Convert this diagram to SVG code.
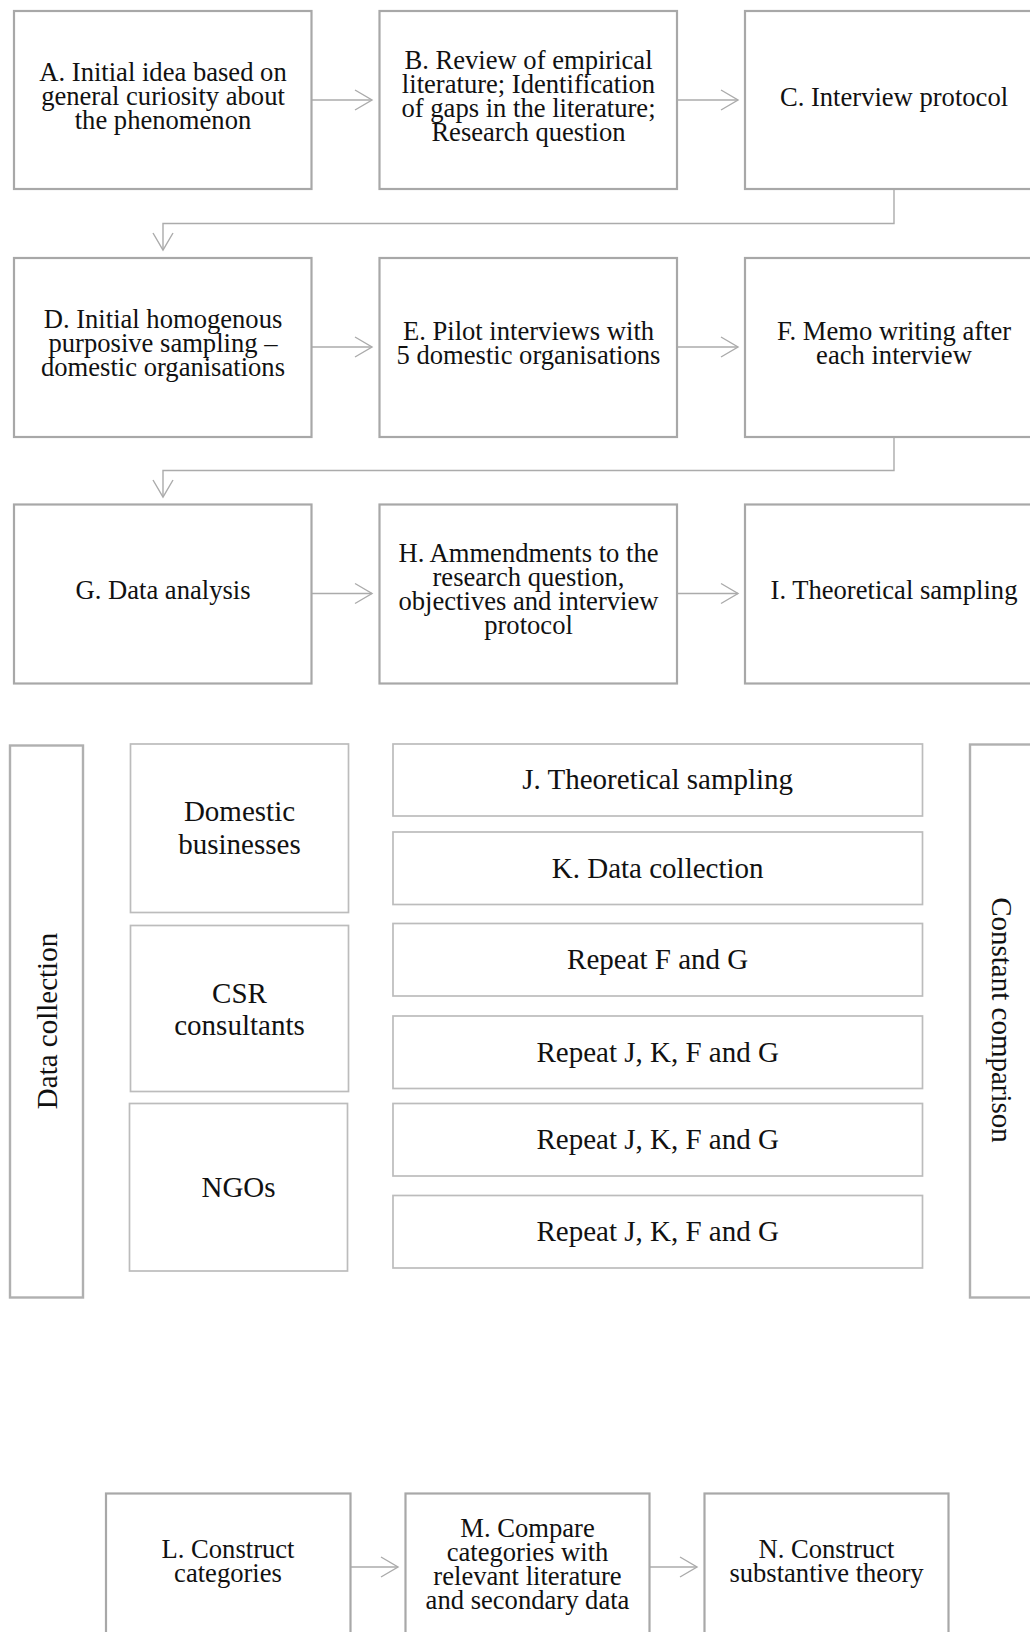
<svg xmlns="http://www.w3.org/2000/svg" width="1030" height="1632" viewBox="0 0 1030 1632">
<defs>
<style>
.box{fill:#fff;stroke:#a8a8a8;stroke-width:2.2}
.mbox{fill:#fff;stroke:#bcbcbc;stroke-width:1.7}
.side{fill:#fff;stroke:#b0b0b0;stroke-width:2.4}
.t{font-family:"Liberation Serif","Times New Roman",serif;font-size:26.6px;fill:#111;text-anchor:middle}
.tm{font-family:"Liberation Serif","Times New Roman",serif;font-size:29px;fill:#111;text-anchor:middle}
.conn{fill:none;stroke:#ababab;stroke-width:1.4}
</style>
<marker id="chev" markerUnits="userSpaceOnUse" markerWidth="20" markerHeight="24" viewBox="0 0 20 24" refX="18" refY="12" orient="auto">
<path d="M1,2 L18,12 L1,22" fill="none" stroke="#ababab" stroke-width="1.4"/>
</marker>
</defs>
<rect width="1030" height="1632" fill="#fff"/>

<g id="connectors">
<path class="conn" d="M311.5,100 H372" marker-end="url(#chev)"/>
<path class="conn" d="M677,100 H738" marker-end="url(#chev)"/>
<path class="conn" d="M894,189 V223.5 H163 V250" marker-end="url(#chev)"/>
<path class="conn" d="M311.5,347 H372" marker-end="url(#chev)"/>
<path class="conn" d="M677,347 H738" marker-end="url(#chev)"/>
<path class="conn" d="M894,437 V470.5 H163 V497" marker-end="url(#chev)"/>
<path class="conn" d="M311.5,593.5 H372" marker-end="url(#chev)"/>
<path class="conn" d="M677,593.5 H738" marker-end="url(#chev)"/>
<path class="conn" d="M350,1567 H398" marker-end="url(#chev)"/>
<path class="conn" d="M649.5,1567 H697" marker-end="url(#chev)"/>
</g>

<g id="nodeA"><rect class="box" x="14" y="11" width="297.5" height="178"/>
<text class="t" x="163" y="81">A. Initial idea based on</text>
<text class="t" x="163" y="105">general curiosity about</text>
<text class="t" x="163" y="129">the phenomenon</text></g>

<g id="nodeB"><rect class="box" x="379.5" y="11" width="297.5" height="178"/>
<text class="t" x="528.5" y="69">B. Review of empirical</text>
<text class="t" x="528.5" y="93">literature; Identification</text>
<text class="t" x="528.5" y="117">of gaps in the literature;</text>
<text class="t" x="528.5" y="141">Research question</text></g>

<g id="nodeC"><rect class="box" x="745" y="11" width="297.5" height="178"/>
<text class="t" x="894" y="106">C. Interview protocol</text></g>

<g id="nodeD"><rect class="box" x="14" y="258" width="297.5" height="179"/>
<text class="t" x="163" y="328">D. Initial homogenous</text>
<text class="t" x="163" y="352">purposive sampling –</text>
<text class="t" x="163" y="376">domestic organisations</text></g>

<g id="nodeE"><rect class="box" x="379.5" y="258" width="297.5" height="179"/>
<text class="t" x="528.5" y="340">E. Pilot interviews with</text>
<text class="t" x="528.5" y="364">5 domestic organisations</text></g>

<g id="nodeF"><rect class="box" x="745" y="258" width="297.5" height="179"/>
<text class="t" x="894" y="340">F. Memo writing after</text>
<text class="t" x="894" y="364">each interview</text></g>

<g id="nodeG"><rect class="box" x="14" y="504.5" width="297.5" height="179"/>
<text class="t" x="163" y="599">G. Data analysis</text></g>

<g id="nodeH"><rect class="box" x="379.5" y="504.5" width="297.5" height="179"/>
<text class="t" x="528.5" y="562">H. Ammendments to the</text>
<text class="t" x="528.5" y="586">research question,</text>
<text class="t" x="528.5" y="610">objectives and interview</text>
<text class="t" x="528.5" y="634">protocol</text></g>

<g id="nodeI"><rect class="box" x="745" y="504.5" width="297.5" height="179"/>
<text class="t" x="894" y="599">I. Theoretical sampling</text></g>

<g id="dataCollection"><rect class="side" x="10" y="745.5" width="73" height="552"/>
<text class="tm" transform="translate(57,1021) rotate(-90)">Data collection</text></g>

<g id="constantComparison"><rect class="side" x="970" y="744.5" width="90" height="553"/>
<text class="tm" transform="translate(992,1020) rotate(90)">Constant comparison</text></g>

<g id="domestic"><rect class="mbox" x="130.5" y="744" width="218" height="168.5"/>
<text class="tm" x="239.5" y="821">Domestic</text>
<text class="tm" x="239.5" y="854">businesses</text></g>

<g id="csr"><rect class="mbox" x="130.5" y="925.5" width="218" height="166"/>
<text class="tm" x="239.5" y="1002.5">CSR</text>
<text class="tm" x="239.5" y="1035">consultants</text></g>

<g id="ngos"><rect class="mbox" x="129.5" y="1103.5" width="218" height="167.5"/>
<text class="tm" x="238.5" y="1197">NGOs</text></g>

<g id="nodeJ"><rect class="mbox" x="393" y="744" width="529.5" height="72"/>
<text class="tm" x="657.7" y="789">J. Theoretical sampling</text></g>

<g id="nodeK"><rect class="mbox" x="393" y="832" width="529.5" height="72.5"/>
<text class="tm" x="657.7" y="877.5">K. Data collection</text></g>

<g id="repeatFG"><rect class="mbox" x="393" y="923.5" width="529.5" height="72.5"/>
<text class="tm" x="657.7" y="969">Repeat F and G</text></g>

<g id="repeat1"><rect class="mbox" x="393" y="1016" width="529.5" height="72.5"/>
<text class="tm" x="657.7" y="1061.5">Repeat J, K, F and G</text></g>

<g id="repeat2"><rect class="mbox" x="393" y="1103.5" width="529.5" height="72.5"/>
<text class="tm" x="657.7" y="1149">Repeat J, K, F and G</text></g>

<g id="repeat3"><rect class="mbox" x="393" y="1195.5" width="529.5" height="72.5"/>
<text class="tm" x="657.7" y="1241">Repeat J, K, F and G</text></g>

<g id="nodeL"><rect class="box" x="106" y="1493.5" width="244.5" height="148"/>
<text class="t" x="228" y="1558">L. Construct</text>
<text class="t" x="228" y="1582">categories</text></g>

<g id="nodeM"><rect class="box" x="405.5" y="1493.5" width="244" height="148"/>
<text class="t" x="527.5" y="1537">M. Compare</text>
<text class="t" x="527.5" y="1561">categories with</text>
<text class="t" x="527.5" y="1585">relevant literature</text>
<text class="t" x="527.5" y="1609">and secondary data</text></g>

<g id="nodeN"><rect class="box" x="704.5" y="1493.5" width="244" height="148"/>
<text class="t" x="826.5" y="1558">N. Construct</text>
<text class="t" x="826.5" y="1582">substantive theory</text></g>
</svg>
